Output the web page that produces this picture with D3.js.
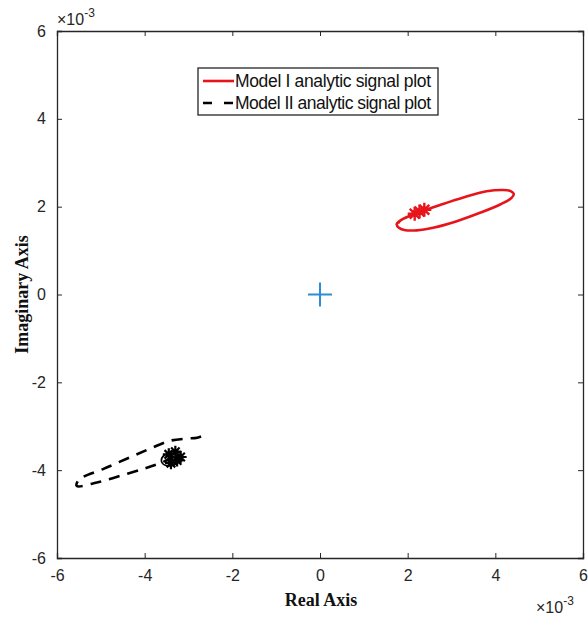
<!DOCTYPE html>
<html><head><meta charset="utf-8">
<script src="https://cdn.jsdelivr.net/npm/d3@7"></script>
<style>body{margin:0;background:#fff}</style>
</head><body>
<svg id="c" width="588" height="617"></svg>
<script>
// ---- data (units of 1e-3) ----
const xTicks = [-6, -4, -2, 0, 2, 4, 6];
const yTicks = [-6, -4, -2, 0, 2, 4, 6];
const legendLabels = ["Model I analytic signal plot", "Model II analytic signal plot"];
// Model I (red) analytic signal trajectory
const model1X = [2.28, 2.15, 2.00, 1.84, 1.75, 1.80, 1.92, 2.21, 2.58, 3.12, 3.65, 4.11, 4.37, 4.42, 4.36, 4.18, 3.80, 3.27, 2.74, 2.36, 2.05, 1.83, 1.78];
const model1Y = [1.89, 1.84, 1.77, 1.69, 1.60, 1.52, 1.47, 1.46, 1.52, 1.67, 1.86, 2.05, 2.20, 2.29, 2.35, 2.38, 2.35, 2.21, 2.04, 1.91, 1.79, 1.68, 1.62];
const model1MarkX = [2.16, 2.27, 2.38];
const model1MarkY = [1.84, 1.89, 1.93];
// Model II (black dashed) analytic signal trajectory
const model2X = [-3.35, -3.55, -3.73, -4.03, -4.56, -5.09, -5.55, -5.52, -5.40, -4.94, -4.41, -3.88, -3.42, -3.04, -2.80, -2.56];
const model2Y = [-3.70, -3.80, -3.87, -3.97, -4.13, -4.28, -4.36, -4.24, -4.15, -3.97, -3.74, -3.51, -3.33, -3.28, -3.26, -3.18];
const model2LoopX = [-3.38, -3.55, -3.62, -3.55, -3.38, -3.22, -3.15, -3.25, -3.40, -3.30, -3.18];
const model2LoopY = [-3.62, -3.66, -3.78, -3.88, -3.90, -3.82, -3.68, -3.58, -3.70, -3.80, -3.72];
const model2MarkX = [-3.45, -3.30, -3.18, -3.40, -3.26];
const model2MarkY = [-3.64, -3.58, -3.70, -3.84, -3.78];
const originX = [0], originY = [0];

// ---- layout ----
const m = {l: 57, r: 583, t: 31, b: 558};
const x = d3.scaleLinear().domain([-6, 6]).range([m.l, m.r]);
const y = d3.scaleLinear().domain([-6, 6]).range([m.b, m.t]);
const svg = d3.select("#c");
const axisCol = "#262626";
const font = "'Liberation Sans', Arial, sans-serif";
const serif = "'Liberation Serif', 'Times New Roman', serif";
const fmt = d => String(d);

// axes
const gx = svg.append("g").attr("transform", `translate(0,${m.b})`)
  .call(d3.axisBottom(x).tickValues(xTicks).tickSize(-5).tickPadding(12).tickFormat(fmt));
const gxT = svg.append("g").attr("transform", `translate(0,${m.t})`)
  .call(d3.axisTop(x).tickValues(xTicks).tickSize(-5).tickFormat(""));
const gy = svg.append("g").attr("transform", `translate(${m.l},0)`)
  .call(d3.axisLeft(y).tickValues(yTicks).tickSize(-5).tickPadding(11).tickFormat(fmt));
const gyR = svg.append("g").attr("transform", `translate(${m.r},0)`)
  .call(d3.axisRight(y).tickValues(yTicks).tickSize(-5).tickFormat(""));
[gx, gxT, gy, gyR].forEach(g => {
  g.selectAll("path.domain").attr("stroke", axisCol).attr("stroke-width", 1.3);
  g.selectAll(".tick line").attr("stroke", axisCol);
  g.selectAll(".tick text").attr("fill", axisCol).style("font-family", font).style("font-size", "16px");
});

// exponent labels
function expLabel(px, py) {
  const t = svg.append("text").attr("x", px).attr("y", py).attr("fill", axisCol)
    .style("font-family", font).style("font-size", "16px");
  t.append("tspan").text("\u00d710");
  t.append("tspan").attr("dy", -8).style("font-size", "12px").text("-3");
}
expLabel(57, 25);
expLabel(536, 613);

// axis titles
svg.append("text").attr("x", (m.l + m.r) / 2 + 1).attr("y", 606).attr("text-anchor", "middle")
  .style("font-family", serif).style("font-weight", "bold")
  .style("font-size", "18px").attr("fill", "#111").text("Real Axis");
svg.append("text").attr("transform", `translate(28,${(m.t + m.b) / 2}) rotate(-90)`).attr("text-anchor", "middle")
  .style("font-family", serif).style("font-weight", "bold")
  .style("font-size", "18px").attr("fill", "#111").text("Imaginary Axis");

const line = d3.line().x(d => x(d[0])).y(d => y(d[1])).curve(d3.curveCatmullRom.alpha(0.5));
const zip = (a, b) => a.map((v, i) => [v, b[i]]);

function asterisk(cx, cy, r) {
  let d = "";
  for (let k = 0; k < 4; k++) {
    const a = k * Math.PI / 4;
    d += `M${cx - r * Math.cos(a)},${cy - r * Math.sin(a)}L${cx + r * Math.cos(a)},${cy + r * Math.sin(a)}`;
  }
  return d;
}

// Model I
svg.append("path").datum(zip(model1X, model1Y)).attr("d", line)
  .attr("fill", "none").attr("stroke", "#e8141b").attr("stroke-width", 2.6);
svg.append("g").selectAll("path").data(zip(model1MarkX, model1MarkY)).join("path")
  .attr("d", d => asterisk(x(d[0]), y(d[1]), 7)).attr("stroke", "#e8141b").attr("stroke-width", 2.4);

// Model II
svg.append("path").datum(zip(model2X, model2Y)).attr("d", line)
  .attr("fill", "none").attr("stroke", "#000").attr("stroke-width", 2.6).attr("stroke-dasharray", "11,8");
svg.append("path").datum(zip(model2LoopX, model2LoopY)).attr("d", line)
  .attr("fill", "none").attr("stroke", "#000").attr("stroke-width", 1.6);
svg.append("g").selectAll("path").data(zip(model2MarkX, model2MarkY)).join("path")
  .attr("d", d => asterisk(x(d[0]), y(d[1]), 6)).attr("stroke", "#000").attr("stroke-width", 2.2);

// origin marker
svg.append("g").selectAll("path").data(zip(originX, originY)).join("path")
  .attr("d", d => `M${x(d[0]) - 12},${y(d[1])}H${x(d[0]) + 12}M${x(d[0])},${y(d[1]) - 12}V${y(d[1]) + 12}`)
  .attr("stroke", "#2c8ed6").attr("stroke-width", 2);

// legend
const lg = svg.append("g");
lg.append("rect").attr("x", 198).attr("y", 68).attr("width", 240).attr("height", 47)
  .attr("fill", "#fff").attr("stroke", axisCol).attr("stroke-width", 1.3);
const legStyles = [{c: "#e8141b", dash: null}, {c: "#000", dash: "9,12"}];
legendLabels.forEach((lab, i) => {
  const yy = 81 + i * 22;
  lg.append("line").attr("x1", 203).attr("x2", 234).attr("y1", yy).attr("y2", yy)
    .attr("stroke", legStyles[i].c).attr("stroke-width", 2.6).attr("stroke-dasharray", legStyles[i].dash);
  lg.append("text").attr("x", 235).attr("y", yy + 6).text(lab).attr("fill", "#111")
    .style("font-family", font).style("font-size", "17.5px").attr("textLength", 196);
});
</script>
</body></html>
